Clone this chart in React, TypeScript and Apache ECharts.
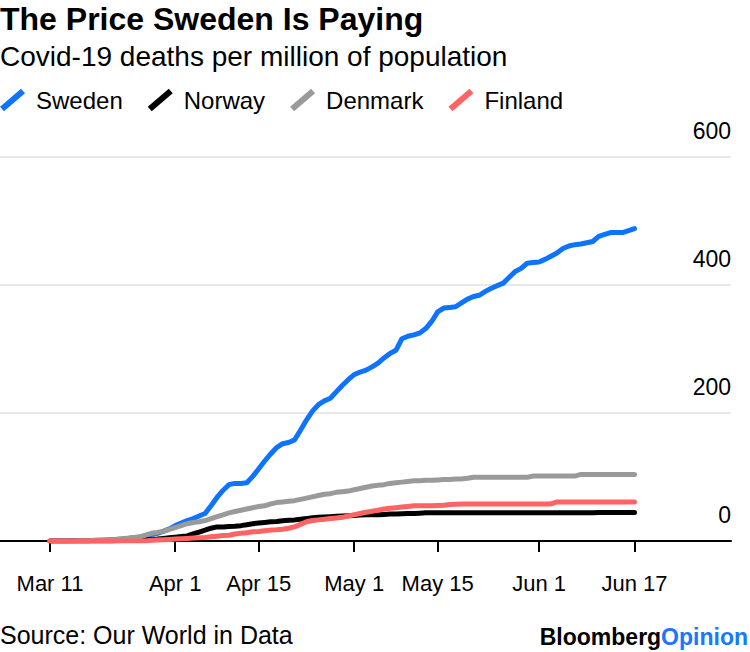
import React, { useEffect, useRef } from "react";
import * as echarts from "echarts";

// ---- Data (deaths per million, daily from Mar 11 to Jun 17, 2020) ----
const startLabel = "Mar 11";
const sweden = [
  0, 0, 0, 0, 0.2, 0.3, 0.5, 0.7, 1, 1.3,
  2, 2.5, 3, 4, 5, 6, 8, 10, 12, 15,
  19, 24, 28, 32, 35, 39, 43, 55, 68, 79,
  88, 90, 90, 91, 101, 113, 125, 136, 146, 152,
  154, 158, 173, 189, 203, 213, 219, 223, 233, 243,
  252, 260, 264, 267, 272, 278, 286, 293, 298, 316,
  320, 322, 325, 332, 343, 358, 364, 365, 366, 372,
  378, 382, 384, 390, 395, 399, 403, 412, 421, 426,
  434, 435, 436, 440, 445, 450, 457, 461, 463, 464,
  466, 468, 476, 479, 482, 482, 482, 485, 488,
];
const norway = [
  0, 0, 0, 0, 0, 0, 0, 0, 0, 0,
  0, 0.5, 0.7, 1, 1.3, 1.5, 2, 2.5, 3, 4,
  5, 6, 7, 8, 11, 14, 17, 20, 22, 22,
  22.5, 23, 24, 25.5, 27, 28, 29, 30, 30.5, 31.5,
  32.5, 33, 34, 35, 36.5, 37, 37.5, 38, 38.5, 39,
  39.5, 40, 40.5, 41, 41, 41, 41.5, 42, 42, 42.5,
  43, 43, 43.5, 44, 44, 44, 44, 44, 44, 44,
  44, 44, 44, 44, 44, 44, 44, 44, 44, 44,
  44, 44, 44, 44, 44, 44, 44, 44, 44, 44,
  44, 44, 44.5, 44.5, 44.5, 44.5, 44.5, 44.5, 44.5,
];
const denmark = [
  0, 0, 0, 0, 0, 0.2, 0.5, 0.7, 1, 1.5,
  2, 2.5, 3.5, 4.5, 5.5, 6.5, 9, 12, 13.5, 15.5,
  18, 21, 24, 27, 29, 30, 32, 35, 38, 41,
  44, 46, 48, 50, 52, 54, 55, 58, 60, 61,
  62, 63, 65, 67, 69, 71, 73, 74, 76, 77,
  78, 80, 82, 84, 86, 87, 88, 90, 91, 92,
  93, 94, 94, 95, 95, 95.5, 96, 96, 97, 97,
  98, 99.5, 99.5, 99.5, 99.5, 99.5, 99.5, 99.5, 99.5, 99.5,
  99.5, 101.5, 101.5, 101.5, 101.5, 101.5, 101.5, 101.5, 101.5, 104,
  104, 104, 104, 104, 104, 104, 104, 104, 104,
];
const finland = [
  0, 0, 0, 0, 0, 0, 0, 0, 0, 0,
  0, 0, 0, 0, 0, 0, 0, 1, 1.5, 2,
  2.5, 3, 3.5, 4, 4.5, 5, 5.5, 6.5, 7.5, 8.5,
  9, 11, 12, 13, 14.5, 15, 16, 17, 17.5, 18.5,
  20, 22, 26, 30, 32, 33, 34, 35, 36, 37,
  39, 41, 43, 45, 46.5, 48, 50, 51, 52, 53,
  54, 55, 55, 55, 55, 55.5, 56, 57, 57.5, 58,
  58, 58, 58, 58, 58, 58, 58, 58, 58, 58,
  58, 58, 58, 58, 58, 61, 61, 61, 61, 61,
  61, 61, 61, 61, 61, 61, 61, 61, 61,
];
const seriesNames = ["Sweden", "Norway", "Denmark", "Finland"];
const seriesValues = [sweden, norway, denmark, finland];
const seriesColors = ["#0e73ff", "#000000", "#9a9a9a", "#ff6363"];

// x ticks: day offsets from Mar 11 and their labels
const tickDays = [0, 21, 35, 51, 65, 82, 98];
const tickLabels = [startLabel, "Apr 1", "Apr 15", "May 1", "May 15", "Jun 1", "Jun 17"];
const yTicks = { min: 0, max: 600, interval: 200 };

const titleText = "The Price Sweden Is Paying";
const subtitleText = "Covid-19 deaths per million of population";
const sourceText = "Source: Our World in Data";

const FONT = '"Liberation Sans", Arial, Helvetica, sans-serif';
const ICON = "path://M0,18L21,0L25,4.6L4,22.6Z";

export default function App() {
  const ref = useRef<HTMLDivElement>(null);
  useEffect(() => {
    if (!ref.current) return;
    const chart = echarts.init(ref.current, null, { renderer: "svg" });
    const option: any = {
      animation: false,
      textStyle: { fontFamily: FONT },
      title: [
        {
          text: titleText, left: 0, top: 3, padding: 0,
          textStyle: { fontSize: 32, fontWeight: "bold", color: "#000", fontFamily: FONT },
        },
        {
          text: subtitleText, left: 0, top: 42, padding: 0,
          textStyle: { fontSize: 28, fontWeight: "normal", color: "#000", fontFamily: FONT },
        },
        {
          text: sourceText, left: 0, top: 622, padding: 0,
          textStyle: { fontSize: 25, fontWeight: "normal", color: "#000", fontFamily: FONT },
        },
        {
          text: "{a|Bloomberg}{b|Opinion}", right: 2, top: 625, padding: 0,
          textStyle: {
            rich: {
              a: { fontSize: 23, fontWeight: "bold", color: "#000", fontFamily: FONT },
              b: { fontSize: 23, fontWeight: "bold", color: "#1a77ff", fontFamily: FONT },
            },
          },
        },
      ],
      legend: {
        data: seriesNames,
        left: 0,
        top: 88,
        padding: 0,
        icon: ICON,
        itemWidth: 25,
        itemHeight: 23,
        itemGap: 25,
        selectedMode: false,
        itemStyle: { borderWidth: 0 },
        textStyle: { fontSize: 24, color: "#000", fontFamily: FONT, padding: [0, 0, 0, 6] },
      },
      grid: { left: 0, right: 19, top: 157, bottom: 111, containLabel: false },
      xAxis: {
        type: "value",
        min: -8.38,
        max: 114.18,
        axisLine: { show: true, onZero: false, lineStyle: { color: "#000", width: 2 } },
        axisTick: { show: true, length: 11, lineStyle: { color: "#000", width: 2 }, customValues: tickDays },
        axisLabel: {
          customValues: tickDays,
          formatter: (v: number) => {
            const i = tickDays.indexOf(Math.round(v));
            return i >= 0 ? tickLabels[i] : "";
          },
          margin: 31,
          fontSize: 22,
          color: "#000",
          fontFamily: FONT,
        },
        splitLine: { show: false },
      },
      yAxis: {
        type: "value",
        position: "right",
        min: yTicks.min,
        max: yTicks.max,
        interval: yTicks.interval,
        axisLine: { show: false },
        axisTick: { show: false },
        splitLine: { show: true, lineStyle: { color: "#e8e8e8", width: 2 } },
        axisLabel: {
          inside: true,
          margin: 0,
          fontSize: 23,
          color: "#000",
          fontFamily: FONT,
          formatter: (v: number) => `{v|${v}}`,
          rich: {
            v: { fontSize: 23, color: "#000", fontFamily: FONT, padding: [0, 0, 52, 0] },
          },
        },
      },
      series: seriesNames.map((name, k) => ({
        name,
        type: "line",
        color: seriesColors[k],
        data: seriesValues[k].map((v, i) => [i, v]),
        showSymbol: false,
        symbol: "none",
        silent: true,
        lineStyle: { width: 5, color: seriesColors[k], cap: "round", join: "round" },
        itemStyle: { color: seriesColors[k] },
        emphasis: { disabled: true },
      })),
    };
    chart.setOption(option);
    return () => chart.dispose();
  }, []);
  return (
    <div
      ref={ref}
      style={{ position: "absolute", left: 0, top: 0, width: 750, height: 652, background: "#fff" }}
    />
  );
}
